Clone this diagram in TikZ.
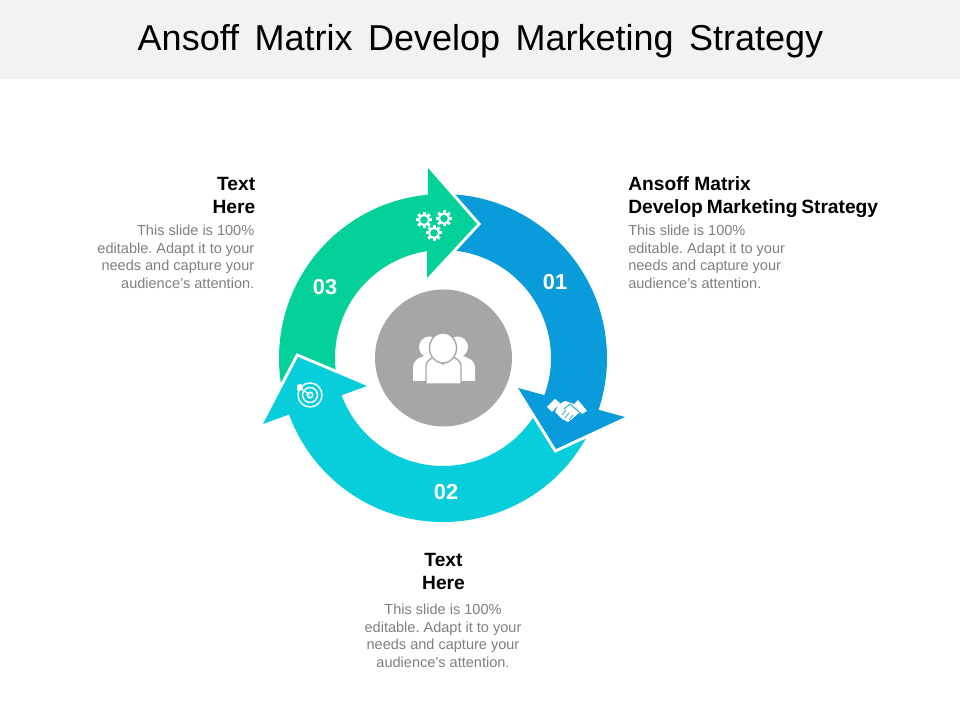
\documentclass[tikz,border=0pt]{standalone}
\usepackage{fontspec}
\setmainfont{Liberation Sans}
\frenchspacing
\definecolor{bandc}{HTML}{F2F2F2}
\definecolor{bluec}{HTML}{0A9BDA}
\definecolor{cyanc}{HTML}{08CEDC}
\definecolor{greenc}{HTML}{04D199}
\definecolor{grayc}{HTML}{A6A6A6}
\definecolor{bodyc}{HTML}{7F7F7F}
\newcommand{\titlefont}{\fontsize{27pt}{33pt}\selectfont\spaceskip=0.43em}
\newcommand{\headfont}{\fontsize{14.4pt}{17.25pt}\selectfont\bfseries}
\newcommand{\copyfont}{\fontsize{10.9pt}{13.1pt}\selectfont}
\tikzset{
  px/.style={shift={(0,720)},yscale=-1},
  headtxt/.style={inner sep=0pt,text=black,font=\headfont},
  copytxt/.style={inner sep=0pt,text=bodyc,font=\copyfont},
  numtxt/.style={inner sep=0pt,text=white,font=\fontsize{16.3pt}{18pt}\selectfont\bfseries},
  headedge/.style={draw=white,line width=4.5pt,miter limit=10,fill=none},
}
\newcommand{\ringbody}[3]{\fill[#1] (#2:164) arc[start angle=#2,end angle=#3,radius=123pt] -- (#3:108) arc[start angle=#3,end angle=#2,radius=81pt] -- cycle;}
\newcommand{\gearicon}[2]{%
  \begin{scope}[shift={(#1,#2)}]
    \draw[white,line width=1.5pt] (0,0) circle (5);
    \foreach \a in {0,45,...,315}{\fill[white,rotate=\a] (-1.5,-5) rectangle (1.5,-8);}
  \end{scope}}
\begin{document}
\begin{tikzpicture}[x=.75pt,y=.75pt]
\begin{scope}[px]
\useasboundingbox (0,0) rectangle (960,720);
\fill[white] (0,0) rectangle (960,720);
\fill[bandc] (0,0) rectangle (960,79);
\node[inner sep=0pt,text=black,font=\titlefont] (title) at (480.5,41) {Ansoff Matrix Develop Marketing Strategy};
\end{scope}
% ring bodies
\begin{scope}[shift={(443,362)}]
\ringbody{cyanc}{-20}{-163}
\ringbody{greenc}{196}{95}
\ringbody{bluec}{94}{-21}
\end{scope}
\begin{scope}[px]
% arrow heads
\draw[headedge] (428,168) -- (477,224) -- (427,278);
\fill[greenc] (428,168) -- (477,224) -- (427,278) -- cycle;
\draw[headedge] (518,388) -- (556,449) -- (625,417);
\fill[bluec] (518,388) -- (556,449) -- (625,417) -- cycle;
\draw[headedge] (367,386) -- (298,357) -- (263,424);
\fill[cyanc] (367,386) -- (298,357) -- (263,424) -- cycle;
% centre disc and people
\fill[grayc] (443.5,358) circle (68.5);
\fill[white] (429.5,347) circle (10.5) (457.5,347) circle (10.5);
\fill[white] (413,381) -- (413,367) .. controls (413,361) and (418,358) .. (424,356) -- (463,356) .. controls (469,358) and (475,361) .. (475,367) -- (475,381) -- cycle;
\fill[white,draw=grayc,line width=1pt] (426,384) -- (426,366) .. controls (426,361) and (431,358) .. (436,356) -- (451,356) .. controls (456,358) and (461,361) .. (461,366) -- (461,384) -- cycle;
\fill[grayc] (434,358) -- (452,358) -- (443,365) -- cycle;
\fill[white,draw=grayc,line width=1pt] (443,348) ellipse (13.5 and 15);
% gears
\gearicon{424}{220}
\gearicon{444}{218.5}
\gearicon{434}{233}
% target
\draw[white,line width=1.1pt] (310,395) circle (12);
\draw[white,line width=1.1pt] (310,395) circle (7.5);
\draw[white,line width=1.1pt] (310,395) circle (2.8);
\draw[white,line width=.9pt] (310,395) -- (300,388);
\fill[white] (297,385) -- (301,384) -- (303,388) -- (300,391) -- (297,390) -- cycle;
% handshake
\fill[white] (547,407) -- (555,399) -- (560,403) -- (552,412) -- cycle;
\fill[white] (587,411) -- (578,400) -- (574,404) -- (582,414) -- cycle;
\fill[white] (558,405) -- (565,401) -- (574,404) -- (580,412) -- (572,419) -- (568,422) -- (562,419) -- (555,412) -- cycle;
\draw[bluec,line width=.6pt] (564,409) -- (570,404) -- (579,412);
\draw[bluec,line width=.5pt] (562,415) -- (566,410) (565,418) -- (569,413) (569,420) -- (573,415);
% numbers
\node[numtxt] (n1) at (555,282) {01};
\node[numtxt] (n2) at (446,492) {02};
\node[numtxt] (n3) at (325,287) {03};
% texts
\node[headtxt,align=left,anchor=west] (h1) at (628,197) {Ansoff Matrix\\{\spaceskip=0.2em Develop Marketing Strategy}};
\node[copytxt,align=left,anchor=west] (b1) at (628,257) {This slide is 100\%\\editable. Adapt it to your\\needs and capture your\\audience's attention.};
\node[headtxt,align=right,anchor=east] (h3) at (255.5,195.5) {Text\\Here};
\node[copytxt,align=right,anchor=east] (b3) at (254.5,257) {This slide is 100\%\\editable. Adapt it to your\\needs and capture your\\audience's attention.};
\node[headtxt,align=center] (h2) at (443.5,571.5) {Text\\Here};
\node[copytxt,align=center] (b2) at (443,636) {This slide is 100\%\\editable. Adapt it to your\\needs and capture your\\audience's attention.};
\end{scope}
\end{tikzpicture}
\end{document}
